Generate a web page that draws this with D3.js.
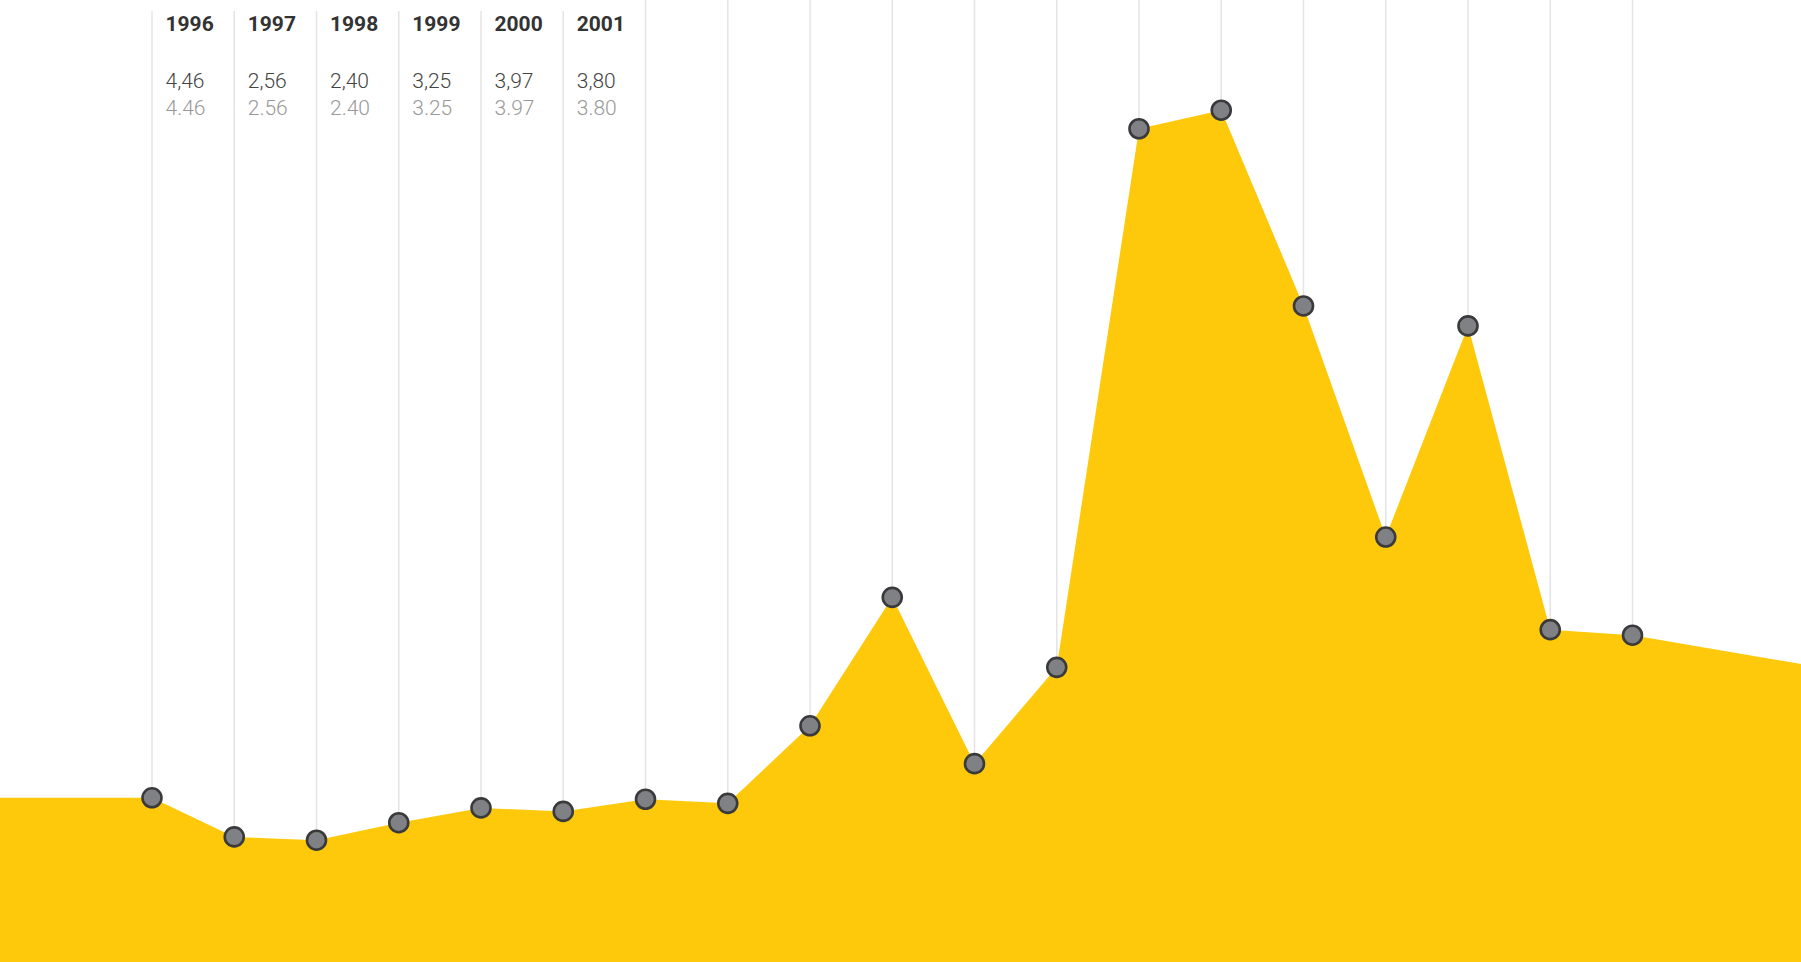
<!DOCTYPE html>
<html>
<head>
<meta charset="utf-8">
<script src="https://cdn.jsdelivr.net/npm/d3@7/dist/d3.min.js"></script>
<style>
  html, body { margin: 0; padding: 0; background: #fff; overflow: hidden; }
  svg { display: block; }
  .year { font-family: Roboto, "Open Sans", sans-serif; font-weight: 700; font-size: 21px; fill: #333; }
  .val  { font-family: Roboto, "Open Sans", sans-serif; font-weight: 300; font-size: 21px; }
</style>
</head>
<body>
<script>
// Yearly series, 1996–2014
const years  = [1996, 1997, 1998, 1999, 2000, 2001, 2002, 2003, 2004, 2005,
                2006, 2007, 2008, 2009, 2010, 2011, 2012, 2013, 2014];
const values = [4.46, 2.56, 2.40, 3.25, 3.97, 3.80, 4.39, 4.19, 7.96, 14.20,
                6.12, 10.80, 36.97, 37.87, 28.36, 17.13, 27.39, 12.63, 12.36];
// value the area runs out to at the right edge of the view
const trailValue = 10.96;
// years whose column carries a label block
const labelYears = [1996, 1997, 1998, 1999, 2000, 2001];

const W = 1801, H = 962;

const svg = d3.select("body").append("svg")
  .attr("width", W).attr("height", H);

const x = d3.scaleLinear().domain([1996, 2014]).range([152, 1632.5]);
const y = d3.scaleLinear().domain([0, 38]).range([889.6, 889.6 - 38 * 20.58]);

const series = years.map((yr, i) => ({ year: yr, value: values[i] }));
const areaData = [{ year: x.invert(0), value: values[0] }]
  .concat(series)
  .concat([{ year: x.invert(W), value: trailValue }]);

// vertical guide per year
svg.append("g").selectAll("line")
  .data(series)
  .join("line")
  .attr("x1", d => x(d.year)).attr("x2", d => x(d.year))
  .attr("y1", d => labelYears.includes(d.year) ? 11 : 0)
  .attr("y2", d => y(d.value))
  .attr("stroke", "#e4e4e4")
  .attr("stroke-width", 1.5);

// filled area down to the bottom of the view
const area = d3.area()
  .x(d => x(d.year))
  .y0(H)
  .y1(d => y(d.value));

svg.append("path")
  .datum(areaData)
  .attr("d", area)
  .attr("fill", "#fec90b");

// points
svg.append("g").selectAll("circle")
  .data(series)
  .join("circle")
  .attr("cx", d => x(d.year))
  .attr("cy", d => y(d.value))
  .attr("r", 9.5)
  .attr("fill", "#808184")
  .attr("stroke", "#3a3a3c")
  .attr("stroke-width", 2.6);

// label blocks: year, value with decimal comma, value with decimal point
const fmtComma = d3.formatLocale({ decimal: ",", thousands: " ", grouping: [3], currency: ["", ""] }).format(".2f");
const fmtDot = d3.format(".2f");

const labels = svg.append("g").selectAll("g")
  .data(series.filter(d => labelYears.includes(d.year)))
  .join("g")
  .attr("transform", d => `translate(${x(d.year) + 13.5},0)`);

labels.append("text").attr("class", "year").attr("y", 31).text(d => d.year);
labels.append("text").attr("class", "val").attr("y", 88).attr("fill", "#444").text(d => fmtComma(d.value));
labels.append("text").attr("class", "val").attr("y", 115).attr("fill", "#999").text(d => fmtDot(d.value));
</script>
</body>
</html>
